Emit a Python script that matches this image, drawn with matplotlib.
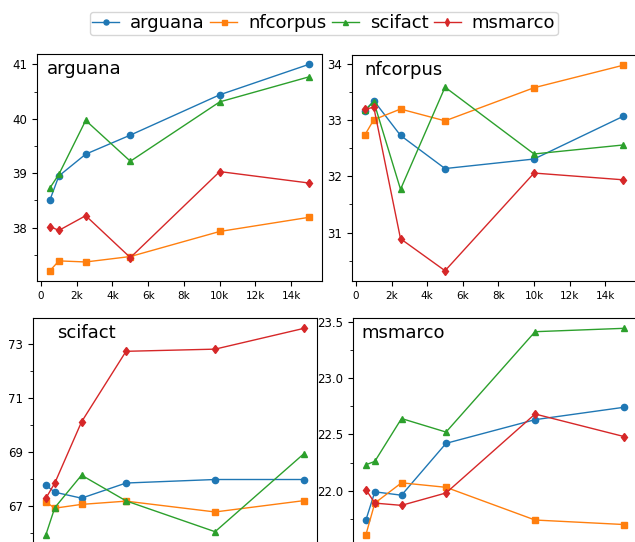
import numpy as np
import matplotlib
matplotlib.use("Agg")
import matplotlib.pyplot as plt
from matplotlib.ticker import MultipleLocator, FuncFormatter

# number of training samples
sizes = [500, 1000, 2500, 5000, 10000, 15000]
models = ["arguana", "nfcorpus", "scifact", "msmarco"]

# scores per evaluation dataset (panel), one list per model (line)
arguana_scores = {
    "arguana": [38.51, 38.95, 39.35, 39.70, 40.44, 41.00],
    "nfcorpus": [37.21, 37.39, 37.37, 37.47, 37.93, 38.19],
    "scifact": [38.73, 38.98, 39.97, 39.22, 40.31, 40.77],
    "msmarco": [38.02, 37.95, 38.22, 37.45, 39.03, 38.82],
}
nfcorpus_scores = {
    "arguana": [33.17, 33.35, 32.73, 32.14, 32.31, 33.07],
    "nfcorpus": [32.74, 33.01, 33.20, 32.99, 33.58, 33.98],
    "scifact": [33.18, 33.33, 31.77, 33.59, 32.40, 32.56],
    "msmarco": [33.20, 33.23, 30.89, 30.32, 32.06, 31.94],
}
scifact_scores = {
    "arguana": [67.78, 67.52, 67.30, 67.86, 67.99, 67.99],
    "nfcorpus": [67.16, 66.93, 67.07, 67.19, 66.79, 67.21],
    "scifact": [65.95, 66.95, 68.15, 67.20, 66.06, 68.95],
    "msmarco": [67.30, 67.86, 70.12, 72.73, 72.81, 73.58],
}
msmarco_scores = {
    "arguana": [21.74, 21.99, 21.96, 22.42, 22.63, 22.74],
    "nfcorpus": [21.61, 21.89, 22.07, 22.03, 21.74, 21.70],
    "scifact": [22.23, 22.26, 22.64, 22.52, 23.41, 23.44],
    "msmarco": [22.01, 21.89, 21.87, 21.98, 22.68, 22.48],
}

colors = ["#1f77b4", "#ff7f0e", "#2ca02c", "#d62728"]
markers = ["o", "s", "^", "d"]

W, H = 635, 542
fig = plt.figure(figsize=(W / 100, H / 100), dpi=100)

# panel boxes in pixels: left, top, right, bottom (lower row runs past the edge)
boxes = [(37, 54, 322, 281), (352, 55, 636, 281),
         (33, 318, 317, 545), (353, 318, 637, 545)]
panels = [("arguana", arguana_scores, 1, 0.5, None, 0.035),
          ("nfcorpus", nfcorpus_scores, 1, 0.5, None, 0.042),
          ("scifact", scifact_scores, None, 1, [67, 69, 71, 73], 0.085),
          ("msmarco", msmarco_scores, 0.5, 0.25, None, 0.028)]

kfmt = FuncFormatter(lambda v, p: "0" if v == 0 else f"{int(v / 1000)}k")

for i, ((l, t, r, b), (name, scores, major, minor, fixed, tx)) in enumerate(zip(boxes, panels)):
    ax = fig.add_axes([l / W, 1 - b / H, (r - l) / W, (b - t) / H])
    for m, c, mk in zip(models, colors, markers):
        ax.plot(sizes, scores[m], color=c, marker=mk, markersize=4.5,
                linewidth=1, label=m)
    ax.xaxis.set_major_locator(MultipleLocator(2000))
    ax.xaxis.set_major_formatter(kfmt)
    if fixed is None:
        ax.yaxis.set_major_locator(MultipleLocator(major))
    else:
        ax.set_yticks(fixed)
    ax.yaxis.set_minor_locator(MultipleLocator(minor))
    ax.tick_params(axis="x", labelsize=7.5)
    ax.tick_params(axis="y", labelsize=8.5)
    if i >= 2:
        # x labels of the lower row fall outside the picture
        ax.tick_params(axis="x", labelbottom=False)
    ax.text(tx, 0.975, name, transform=ax.transAxes, fontsize=13,
            va="top", ha="left")

handles, labels = fig.axes[0].get_legend_handles_labels()
fig.legend(handles, labels, loc="upper center", ncol=4,
           bbox_to_anchor=(0.51, 0.995), fontsize=13, handlelength=1.5,
           handletextpad=0.6, columnspacing=0.3, borderpad=0.15,
           markerscale=0.8)

fig.savefig("out.png", dpi=100)
